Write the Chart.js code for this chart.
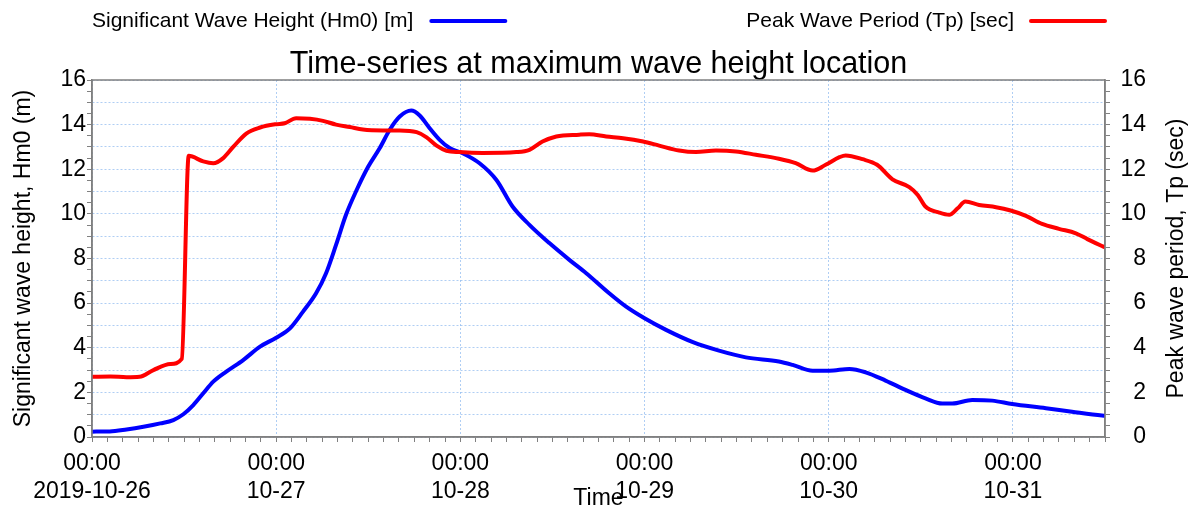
<!DOCTYPE html>
<html>
<head>
<meta charset="utf-8">
<script src="https://cdn.jsdelivr.net/npm/chart.js@4.4.0/dist/chart.umd.min.js"></script>
<style>
  html, body { margin: 0; padding: 0; background: #fff; }
</style>
</head>
<body>
<canvas id="waveChart" width="1195" height="508"></canvas>
<script>
// hours since 2019-10-26 00:00
const hoursHm0 = [0, 2.3, 4.5, 6.7, 8.9, 10.6, 11.9, 13.2, 14.5, 15.8, 17.5, 19.7, 21.9, 24, 25.8, 27.5, 29.2, 30.5, 31.8, 33.1, 34.5, 36, 37.5, 38.8, 40.1, 41.6, 42.7, 44, 45.3, 46.6, 48.3, 50.5, 52.7, 54.8, 57, 59.6, 62.2, 64.4, 67.4, 69.6, 72, 74.8, 78.3, 81.7, 85.2, 89.5, 91.3, 93.9, 96.1, 98.7, 100.8, 103.4, 106, 108.6, 110.8, 112.1, 114.7, 117.3, 119.9, 124.3, 127.7, 131.6, 132];
const hm0 = [0.24, 0.25, 0.34, 0.46, 0.61, 0.76, 1.02, 1.43, 1.96, 2.48, 2.93, 3.45, 4.05, 4.45, 4.87, 5.62, 6.44, 7.34, 8.61, 9.96, 11.08, 12.12, 12.95, 13.77, 14.36, 14.63, 14.41, 13.84, 13.32, 12.95, 12.72, 12.27, 11.52, 10.33, 9.51, 8.69, 7.94, 7.34, 6.44, 5.84, 5.32, 4.8, 4.25, 3.87, 3.57, 3.38, 3.23, 2.97, 2.97, 3.05, 2.9, 2.53, 2.11, 1.73, 1.5, 1.5, 1.66, 1.63, 1.48, 1.29, 1.13, 0.96, 0.95];

const hoursTp = [0, 2.4, 4.5, 6.2, 8, 10.2, 11.7, 12.6, 14.5, 15.8, 17.1, 18.4, 20.1, 21.9, 24, 25.1, 26.6, 28.4, 30.1, 31.8, 33.6, 35.3, 37.9, 40.1, 42.3, 43.6, 44.9, 46.2, 47.9, 50.9, 55.3, 57, 58.7, 60.5, 63.5, 64.8, 67, 69.2, 71.8, 73.9, 76.5, 78.7, 81.3, 83.9, 86.5, 89.5, 91.7, 93.9, 95.6, 97.4, 98.2, 100.4, 102.3, 104.3, 106.5, 107.6, 108.6, 110.4, 111.7, 112.8, 113.8, 115.6, 117.8, 119.7, 121.7, 123.8, 126, 128.2, 129.7, 131.6, 132];
const tp = [2.7, 2.71, 2.68, 2.7, 3.0, 3.27, 3.5, 12.6, 12.35, 12.27, 12.5, 13.0, 13.6, 13.87, 14.02, 14.06, 14.29, 14.26, 14.17, 14.0, 13.89, 13.78, 13.74, 13.74, 13.66, 13.43, 13.06, 12.83, 12.77, 12.73, 12.77, 12.87, 13.24, 13.47, 13.55, 13.57, 13.47, 13.39, 13.24, 13.06, 12.84, 12.77, 12.84, 12.8, 12.65, 12.47, 12.27, 11.94, 12.2, 12.54, 12.62, 12.45, 12.2, 11.55, 11.2, 10.85, 10.33, 10.06, 9.96, 10.25, 10.55, 10.4, 10.3, 10.15, 9.91, 9.55, 9.33, 9.13, 8.87, 8.56, 8.5];

const dayTicks = [0, 24, 48, 72, 96, 120];
const dayLabels = [["00:00", "2019-10-26"], ["00:00", "10-27"], ["00:00", "10-28"], ["00:00", "10-29"], ["00:00", "10-30"], ["00:00", "10-31"]];

const FONT = '"Liberation Sans", Arial, sans-serif';
const gridBlue = 'rgba(110,165,235,0.55)';
const axisGrey = '#808080';

const yTickLabel = v => (v % 2 === 0 ? String(v) : '');

// legend, frame and right-hand axis title
const extras = {
  id: 'extras',
  afterDraw(chart) {
    const { ctx, chartArea: a } = chart;
    ctx.save();
    ctx.strokeStyle = axisGrey;
    ctx.lineWidth = 1.5;
    ctx.strokeRect(a.left, a.top, a.right - a.left, a.bottom - a.top);

    ctx.font = '21px ' + FONT;
    ctx.fillStyle = '#000';
    ctx.textBaseline = 'middle';
    ctx.lineWidth = 4;
    ctx.lineCap = 'round';

    const blue = chart.data.datasets[0];
    ctx.textAlign = 'left';
    ctx.fillText(blue.label, a.left, 21);
    const x0 = a.left + ctx.measureText(blue.label).width + 18;
    ctx.strokeStyle = blue.borderColor;
    ctx.beginPath(); ctx.moveTo(x0, 21); ctx.lineTo(x0 + 74, 21); ctx.stroke();

    const red = chart.data.datasets[1];
    ctx.strokeStyle = red.borderColor;
    ctx.beginPath(); ctx.moveTo(a.right - 74, 21); ctx.lineTo(a.right, 21); ctx.stroke();
    ctx.textAlign = 'right';
    ctx.fillText(red.label, a.right - 91, 21);

    ctx.font = '23px ' + FONT;
    ctx.textAlign = 'center';
    ctx.translate(1177, (a.top + a.bottom) / 2);
    ctx.rotate(-Math.PI / 2);
    ctx.fillText('Peak wave period, Tp (sec)', 0, 0);
    ctx.restore();
  }
};

new Chart(document.getElementById('waveChart'), {
  type: 'line',
  data: {
    datasets: [{
      label: 'Significant Wave Height (Hm0) [m]',
      data: hoursHm0.map((h, i) => ({ x: h, y: hm0[i] })),
      yAxisID: 'y',
      borderColor: '#0000ff',
      borderWidth: 4,
      pointRadius: 0,
      cubicInterpolationMode: 'monotone',
      order: 1
    }, {
      label: 'Peak Wave Period (Tp) [sec]',
      data: hoursTp.map((h, i) => ({ x: h, y: tp[i] })),
      yAxisID: 'y2',
      borderColor: '#ff0000',
      borderWidth: 4,
      pointRadius: 0,
      cubicInterpolationMode: 'monotone',
      order: 0
    }]
  },
  options: {
    responsive: false,
    animation: false,
    layout: { padding: { top: 40, right: 49, left: 0, bottom: 0 } },
    plugins: {
      legend: { display: false },
      tooltip: { enabled: false },
      title: {
        display: true,
        fullSize: false,
        text: 'Time-series at maximum wave height location',
        color: '#000',
        font: { family: FONT, size: 30.5, weight: 'normal' },
        padding: { top: 6, bottom: -2.6 }
      }
    },
    scales: {
      x: {
        type: 'linear',
        min: 0,
        max: 132,
        afterFit: s => { s.height = 71; },
        ticks: {
          stepSize: 2,
          autoSkip: false,
          maxRotation: 0,
          padding: 8,
          color: '#000',
          font: { family: FONT, size: 23 },
          callback: v => {
            const i = dayTicks.indexOf(v);
            return i >= 0 ? dayLabels[i] : '';
          }
        },
        grid: {
          color: c => (c.tick && c.tick.value % 24 === 0 ? gridBlue : 'rgba(0,0,0,0)'),
          tickColor: axisGrey,
          tickLength: 5,
          tickBorderDash: []
        },
        border: { color: axisGrey, width: 1.5, dash: [2, 2] },
        title: {
          display: true,
          text: 'Time',
          color: '#000',
          font: { family: FONT, size: 23 },
          padding: { top: 0, bottom: -4 }
        }
      },
      y: {
        position: 'left',
        min: 0,
        max: 16,
        afterFit: s => { s.width = 92; },
        ticks: {
          stepSize: 0.5,
          autoSkip: false,
          padding: 1,
          color: '#000',
          font: { family: FONT, size: 23 },
          callback: yTickLabel
        },
        grid: {
          color: c => (c.tick && c.tick.value % 1 === 0 ? gridBlue : 'rgba(0,0,0,0)'),
          tickColor: axisGrey,
          tickLength: 5,
          tickBorderDash: []
        },
        border: { color: axisGrey, width: 1.5, dash: [2, 2] },
        title: {
          display: true,
          text: 'Significant wave height, Hm0 (m)',
          color: '#000',
          font: { family: FONT, size: 23 },
          padding: { top: 10, bottom: 0 }
        }
      },
      y2: {
        position: 'right',
        min: 0,
        max: 16,
        afterFit: s => { s.width = 41; },
        ticks: {
          stepSize: 0.5,
          autoSkip: false,
          crossAlign: 'far',
          color: '#000',
          font: { family: FONT, size: 23 },
          callback: yTickLabel
        },
        grid: {
          drawOnChartArea: false,
          color: axisGrey,
          tickColor: axisGrey,
          tickLength: 5
        },
        border: { color: axisGrey, width: 1.5 }
      }
    }
  },
  plugins: [extras]
});
</script>
</body>
</html>
